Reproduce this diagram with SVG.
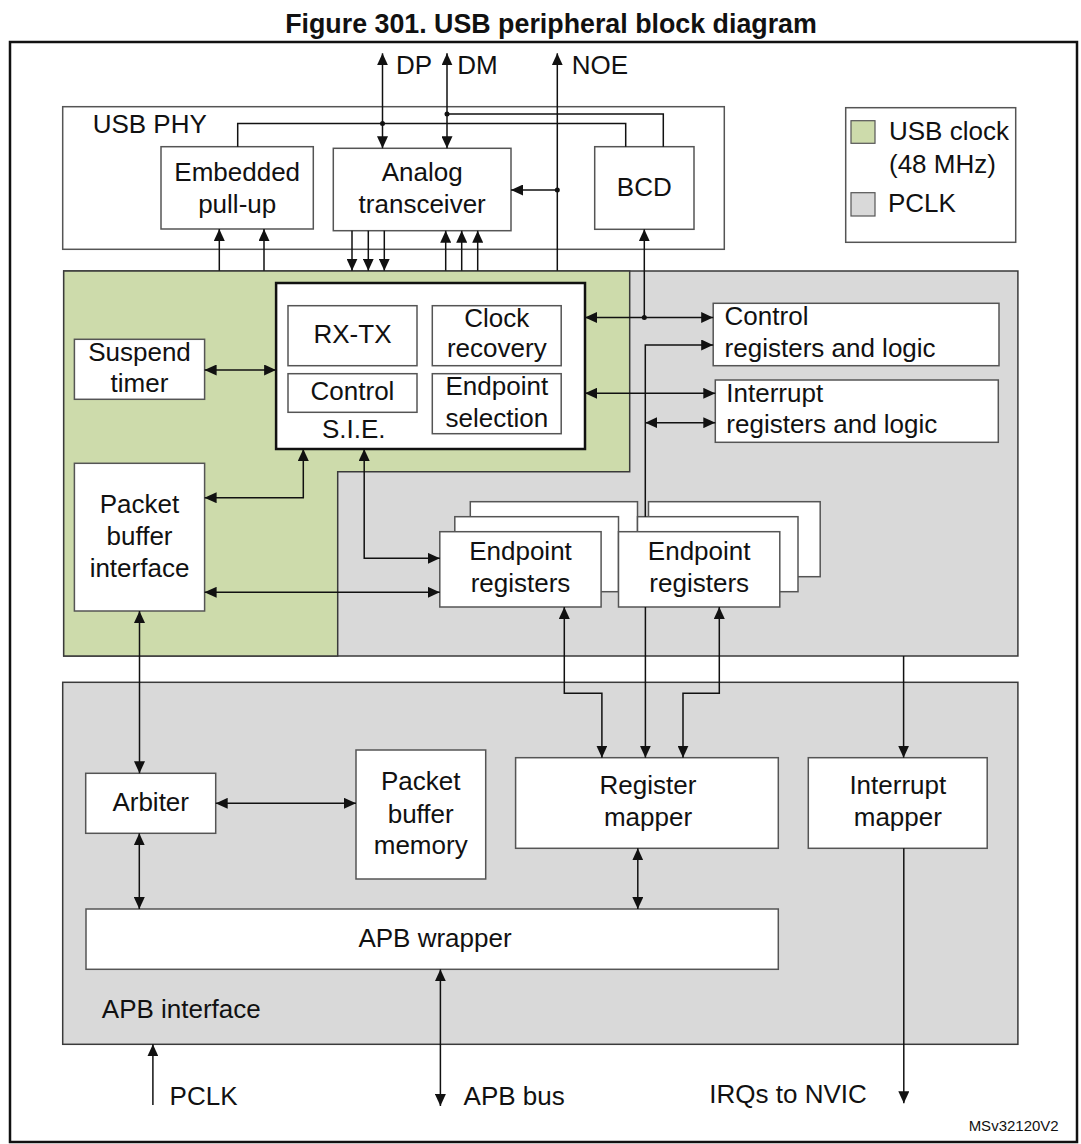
<svg xmlns="http://www.w3.org/2000/svg" width="1081" height="1144" viewBox="0 0 1081 1144">
<style>
text{font-family:"Liberation Sans",Arial,sans-serif;font-size:26px;fill:#111}
.t{font-weight:bold;font-size:26.8px}
.c{text-anchor:middle}
.box{fill:#fff;stroke:#555;stroke-width:1.5}
.reg{stroke:#3a3a3a;stroke-width:1.5}
.w{fill:none;stroke:#111;stroke-width:1.5}
.a{fill:none;stroke:#111;stroke-width:1.5;marker-end:url(#ah)}
.b{fill:none;stroke:#111;stroke-width:1.5;marker-start:url(#ah);marker-end:url(#ah)}
.sm{font-size:15px}
</style>
<defs>
<marker id="ah" viewBox="0 0 12 11" refX="12" refY="5.5" markerWidth="12" markerHeight="11" markerUnits="userSpaceOnUse" orient="auto-start-reverse"><path d="M0,0L12,5.5L0,11z" fill="#111"/></marker>
</defs>
<rect width="1081" height="1144" fill="#fff"/>
<text class="t c" x="551" y="33">Figure 301. USB peripheral block diagram</text>
<rect x="10" y="42" width="1067" height="1100" fill="none" stroke="#111" stroke-width="2.5"/>

<g id="regions">
<rect class="reg" x="63.7" y="271" width="954.2" height="385" fill="#d9d9d9"/>
<polygon class="reg" points="63.7,271 629.7,271 629.7,471.7 337.7,471.7 337.7,656 63.7,656" fill="#cddbab"/>
<rect class="reg" x="62.7" y="682.3" width="955.2" height="362" fill="#d9d9d9"/>
<text x="101.8" y="1017.7">APB interface</text>
</g>

<g id="usb-phy">
<rect class="box" x="62.7" y="106.7" width="661.6" height="142.6"/>
<text x="92.7" y="133.3">USB PHY</text>
</g>

<g id="legend">
<rect class="box" x="845.7" y="107.7" width="170" height="134.6"/>
<rect x="851" y="120.7" width="24" height="22.6" fill="#cddbab" stroke="#555" stroke-width="1.2"/>
<rect x="851" y="192.7" width="24" height="23.3" fill="#d9d9d9" stroke="#555" stroke-width="1.2"/>
<text x="889" y="140">USB clock</text>
<text x="889" y="173">(48 MHz)</text>
<text x="888" y="212">PCLK</text>
</g>

<g id="pullup">
<rect class="box" x="161" y="146.7" width="152.3" height="82.3"/>
<text class="c" x="237.2" y="180.7">Embedded</text>
<text class="c" x="237.2" y="213">pull-up</text>
</g>
<g id="analog">
<rect class="box" x="333.3" y="148.3" width="177.7" height="82.4"/>
<text class="c" x="422.2" y="181">Analog</text>
<text class="c" x="422.2" y="213">transceiver</text>
</g>
<g id="bcd">
<rect class="box" x="594.7" y="146.7" width="99.3" height="82.6"/>
<text class="c" x="644.3" y="196">BCD</text>
</g>

<g id="sie">
<rect x="276.1" y="283" width="308.9" height="166" fill="#fff" stroke="#111" stroke-width="2.5"/>
<rect class="box" x="288" y="305.7" width="129" height="60"/>
<text class="c" x="352.5" y="343.3">RX-TX</text>
<rect class="box" x="432.3" y="305.7" width="128.9" height="60"/>
<text class="c" x="496.8" y="327">Clock</text>
<text class="c" x="496.8" y="357">recovery</text>
<rect class="box" x="288" y="373.7" width="129" height="38.6"/>
<text class="c" x="352.5" y="400">Control</text>
<rect class="box" x="432.3" y="373.7" width="128.9" height="60"/>
<text class="c" x="496.8" y="395">Endpoint</text>
<text class="c" x="496.8" y="426.7">selection</text>
<text class="c" x="353.8" y="438.3">S.I.E.</text>
</g>

<g id="suspend">
<rect class="box" x="74.4" y="339.3" width="130.2" height="60"/>
<text class="c" x="139.5" y="361">Suspend</text>
<text class="c" x="139.5" y="392">timer</text>
</g>
<g id="pbi">
<rect class="box" x="74.4" y="463.3" width="130.2" height="147.7"/>
<text class="c" x="139.5" y="513.3">Packet</text>
<text class="c" x="139.5" y="545">buffer</text>
<text class="c" x="139.5" y="576.7">interface</text>
</g>

<g id="control-registers">
<rect class="box" x="713.2" y="303.3" width="285.8" height="62.4"/>
<text x="724.6" y="325">Control</text>
<text x="724.6" y="356.7">registers and logic</text>
</g>
<g id="interrupt-registers">
<rect class="box" x="715.3" y="380" width="283" height="62.3"/>
<text x="726.3" y="401.7">Interrupt</text>
<text x="726.3" y="433.3">registers and logic</text>
</g>

<g id="endpoint-registers-1">
<rect class="box" x="470.3" y="501.7" width="167.2" height="75"/>
<rect class="box" x="454.8" y="516.7" width="163.7" height="75"/>
<rect class="box" x="439.8" y="531.7" width="161.3" height="75.3"/>
<text class="c" x="520.5" y="560">Endpoint</text>
<text class="c" x="520.5" y="591.7">registers</text>
</g>
<g id="endpoint-registers-2">
<rect class="box" x="648.5" y="501.7" width="171.7" height="75"/>
<rect class="box" x="637.5" y="516.7" width="160.5" height="75"/>
<rect class="box" x="618.5" y="531.7" width="161.3" height="75.3"/>
<text class="c" x="699.2" y="560">Endpoint</text>
<text class="c" x="699.2" y="591.7">registers</text>
</g>

<g id="arbiter">
<rect class="box" x="85.7" y="773.3" width="130" height="60"/>
<text class="c" x="150.7" y="811">Arbiter</text>
</g>
<g id="packet-buffer-memory">
<rect class="box" x="356" y="750" width="129.7" height="129"/>
<text class="c" x="420.7" y="790">Packet</text>
<text class="c" x="420.7" y="822.7">buffer</text>
<text class="c" x="420.7" y="854.3">memory</text>
</g>
<g id="register-mapper">
<rect class="box" x="515.6" y="757.7" width="262.7" height="90.6"/>
<text class="c" x="648" y="794.3">Register</text>
<text class="c" x="648" y="826">mapper</text>
</g>
<g id="interrupt-mapper">
<rect class="box" x="808.3" y="757.7" width="178.9" height="90.6"/>
<text class="c" x="897.8" y="794.3">Interrupt</text>
<text class="c" x="897.8" y="826">mapper</text>
</g>
<g id="apb-wrapper">
<rect class="box" x="86" y="909" width="692.3" height="60.3"/>
<text class="c" x="435" y="946.7">APB wrapper</text>
</g>

<g id="connectors">
<path class="b" d="M382.5,53.3V148.3"/>
<path class="b" d="M447,53.3V148.3"/>
<path class="a" d="M557.3,270.7V53.3"/>
<path class="a" d="M557.3,190H511"/>
<path class="w" d="M447,114H663.3V146.7"/>
<path class="w" d="M237.7,146.7V123.5H625.7V146.7"/>
<path class="a" d="M352,230.7V270.7"/>
<path class="a" d="M368.3,230.7V270.7"/>
<path class="a" d="M384.3,230.7V270.7"/>
<path class="a" d="M445.7,270.7V230.7"/>
<path class="a" d="M461.7,270.7V230.7"/>
<path class="a" d="M477.7,270.7V230.7"/>
<path class="a" d="M219.3,270.7V229"/>
<path class="a" d="M264,270.7V229"/>
<path class="a" d="M644.3,317.5V229.3"/>
<path class="b" d="M585,317.5H713.2"/>
<path class="b" d="M585,393.3H715.3"/>
<path class="a" d="M645.3,516.7V345H713.2"/>
<path class="b" d="M645.3,422.7H715.3"/>
<path class="b" d="M204.6,370H276.1"/>
<path class="b" d="M364.2,449V558.3H439.8"/>
<path class="b" d="M204.6,497.7H303.3V449"/>
<path class="b" d="M204.6,592.3H439.8"/>
<path class="b" d="M139.5,611V773.3"/>
<path class="b" d="M564.3,607V693.3H601.9V757.7"/>
<path class="a" d="M645.4,607V757.7"/>
<path class="b" d="M719.3,607V693.3H683V757.7"/>
<path class="a" d="M903.6,656V757.7"/>
<path class="b" d="M215.7,803.3H356"/>
<path class="b" d="M139.3,833.3V909"/>
<path class="b" d="M637.8,848.3V909"/>
<path class="a" d="M903.8,848.3V1103.3"/>
<path class="a" d="M152.9,1105V1044.3"/>
<path class="b" d="M440.4,969.3V1106"/>
<circle cx="382.5" cy="123.5" r="2.5" fill="#111"/>
<circle cx="447" cy="114" r="2.5" fill="#111"/>
<circle cx="557.3" cy="190" r="2.5" fill="#111"/>
<circle cx="644.3" cy="317.5" r="2.5" fill="#111"/>
</g>

<g id="labels">
<text x="396" y="74">DP</text>
<text x="457.3" y="74">DM</text>
<text x="571.7" y="74">NOE</text>
<text x="169.6" y="1105">PCLK</text>
<text x="463.6" y="1105">APB bus</text>
<text x="709.3" y="1103.3">IRQs to NVIC</text>
<text class="sm" x="1058.7" y="1130.7" text-anchor="end">MSv32120V2</text>
</g>
</svg>
